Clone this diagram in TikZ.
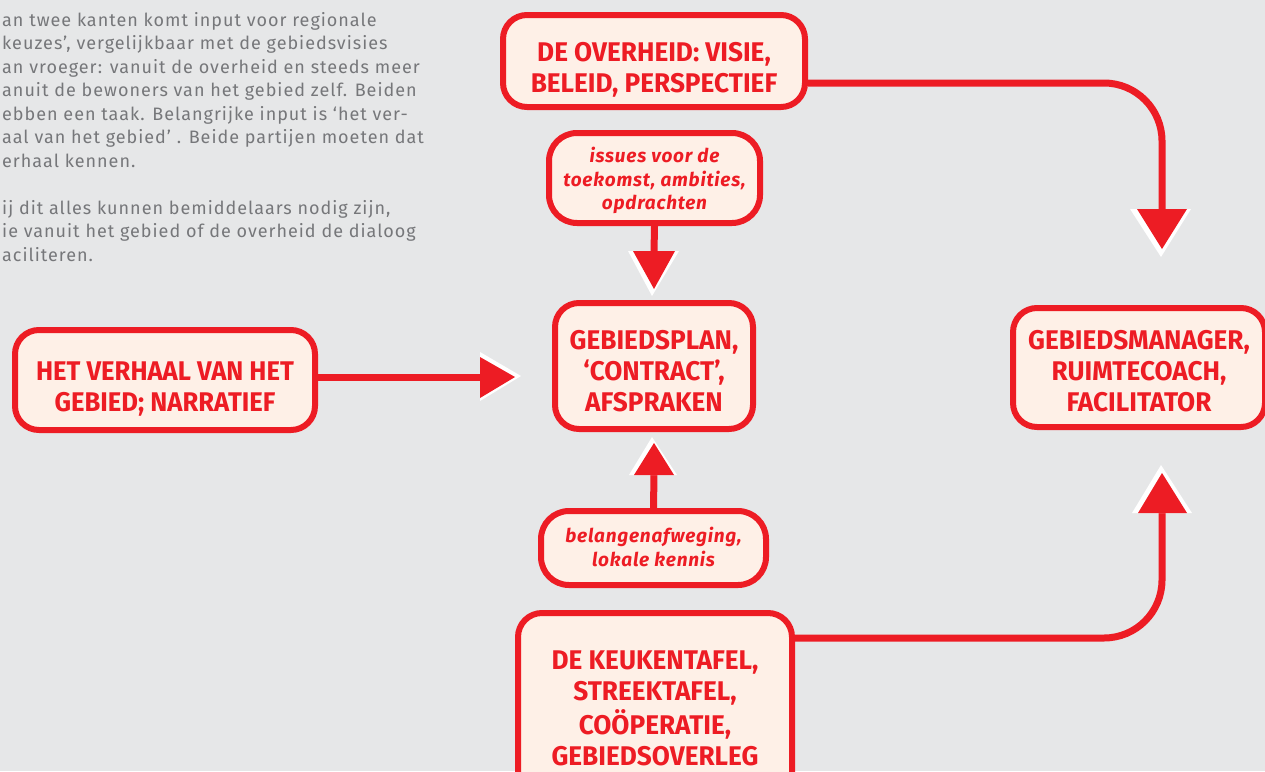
\documentclass[tikz,border=0pt]{standalone}
\usepackage{fontspec}
\setmainfont{Fira Sans}
\newfontfamily\boxfont{Fira Sans}[FakeStretch=0.97]
\newfontfamily\itfont{Fira Sans}[LetterSpace=4]
\newfontfamily\parafont{Fira Sans}[LetterSpace=5.5]
\definecolor{bg}{HTML}{E6E7E8}
\definecolor{rd}{HTML}{ED1C24}
\definecolor{peach}{HTML}{FEF0E7}
\definecolor{gtext}{HTML}{76777A}
\newcommand{\dn}[2]{\raisebox{-#1}[\height][\depth]{\begin{tabular}{@{}c@{}}#2\end{tabular}}}
\tikzset{
  bigbox/.style={draw=rd, line width=6pt, fill=peach, rounded corners=24pt, align=center, text=rd,
    font=\boxfont\bfseries\fontsize{27}{31}\selectfont, inner sep=0pt},
  itbox/.style={draw=rd, line width=6pt, fill=peach, rounded corners=28pt, align=center, text=rd,
    font=\itfont\bfseries\itshape\fontsize{19}{23.5}\selectfont, inner sep=0pt},
  conn/.style={draw=rd, line width=7pt},
  headred/.style={fill=rd},
  headwhite/.style={fill=white},
  para/.style={anchor=north west, align=left, text=gtext, inner sep=0pt,
    font=\parafont\fontsize{18}{23.5}\selectfont}
}
\begin{document}
\begin{tikzpicture}[x=1pt,y=-1pt]
\fill[bg] (0,0) rectangle (1265,771);
\useasboundingbox (0,0) rectangle (1265,771);
\clip (0,0) rectangle (1265,771);

\node[para] (txt) at (2,12) {an twee kanten komt input voor regionale\\
keuzes’, vergelijkbaar met de gebiedsvisies\\
an vroeger: vanuit de overheid en steeds meer\\
anuit de bewoners van het gebied zelf. Beiden\\
ebben een taak. Belangrijke input is ‘het ver-\\
aal van het gebied’ . Beide partijen moeten dat\\
erhaal kennen.\\[23.5pt]
ij dit alles kunnen bemiddelaars nodig zijn,\\
ie vanuit het gebied of de overheid de dialoog\\
aciliteren.};

\coordinate (a1) at (1162,210);
\coordinate (a2) at (654,252);
\coordinate (a3) at (481,377);
\coordinate (a4) at (654,474);
\coordinate (a5) at (1162,512);

\node[bigbox, minimum width=302pt, minimum height=92pt] (ov) at (654,61) {\dn{9.5pt}{DE OVERHEID: VISIE,\\BELEID, PERSPECTIEF}};
\node[itbox, minimum width=211pt, minimum height=90pt] (iss) at (654.5,178) {\dn{3.5pt}{issues voor de\\toekomst, ambities,\\opdrachten}};
\node[bigbox, minimum width=198pt, minimum height=126pt] (plan) at (654,366) {\dn{8.5pt}{GEBIEDSPLAN,\\‘CONTRACT’,\\AFSPRAKEN}};
\node[bigbox, minimum width=300pt, minimum height=100pt] (verh) at (165,380) {\dn{10pt}{\addfontfeatures{FakeStretch=0.95}HET VERHAAL VAN HET\\\addfontfeatures{FakeStretch=0.95}GEBIED; NARRATIEF}};
\node[bigbox, minimum width=252pt, minimum height=119pt] (mgr) at (1139,367.5) {\dn{7pt}{GEBIEDSMANAGER,\\RUIMTECOACH,\\FACILITATOR}};
\node[itbox, minimum width=225pt, minimum height=74pt] (bel) at (653.5,548) {\dn{1.8pt}{belangenafweging,\\lokale kennis}};
\node[bigbox, minimum width=274pt, minimum height=188pt] (keuk) at (655,707) {\dn{4pt}{DE KEUKENTAFEL,\\STREEKTAFEL,\\COÖPERATIE,\\GEBIEDSOVERLEG}};

\draw[conn, rounded corners=58pt] ([yshift=-22pt]ov.east) -- (1162,83) -- (a1);
\draw[conn] (iss.south) -- (a2);
\draw[conn] (verh.east |- a3) -- (a3);
\draw[conn] (bel.north) -- (a4);
\draw[conn, rounded corners=58pt] ([yshift=69pt]keuk.east) -- (1162,638) -- (a5);

% arrowheads
\fill[headwhite] (1130,209) -- (1191,209) -- (1161,257) -- cycle;
\fill[headred] (1137,209) -- (1187,209) -- (1162,249) -- cycle;
\fill[headwhite] (628,251) -- (679,251) -- (652,296) -- cycle;
\fill[headred] (633,251) -- (675,251) -- (654,289) -- cycle;
\fill[headwhite] (480,352) -- (480,401) -- (521,376) -- cycle;
\fill[headred] (480,357) -- (480,398) -- (515,377) -- cycle;
\fill[headwhite] (629,475) -- (677,475) -- (652,437) -- cycle;
\fill[headred] (634,475) -- (674,475) -- (654,443) -- cycle;
\fill[headwhite] (1132,513) -- (1192,513) -- (1161,465) -- cycle;
\fill[headred] (1138,513) -- (1187,513) -- (1162,473) -- cycle;
\end{tikzpicture}
\end{document}
